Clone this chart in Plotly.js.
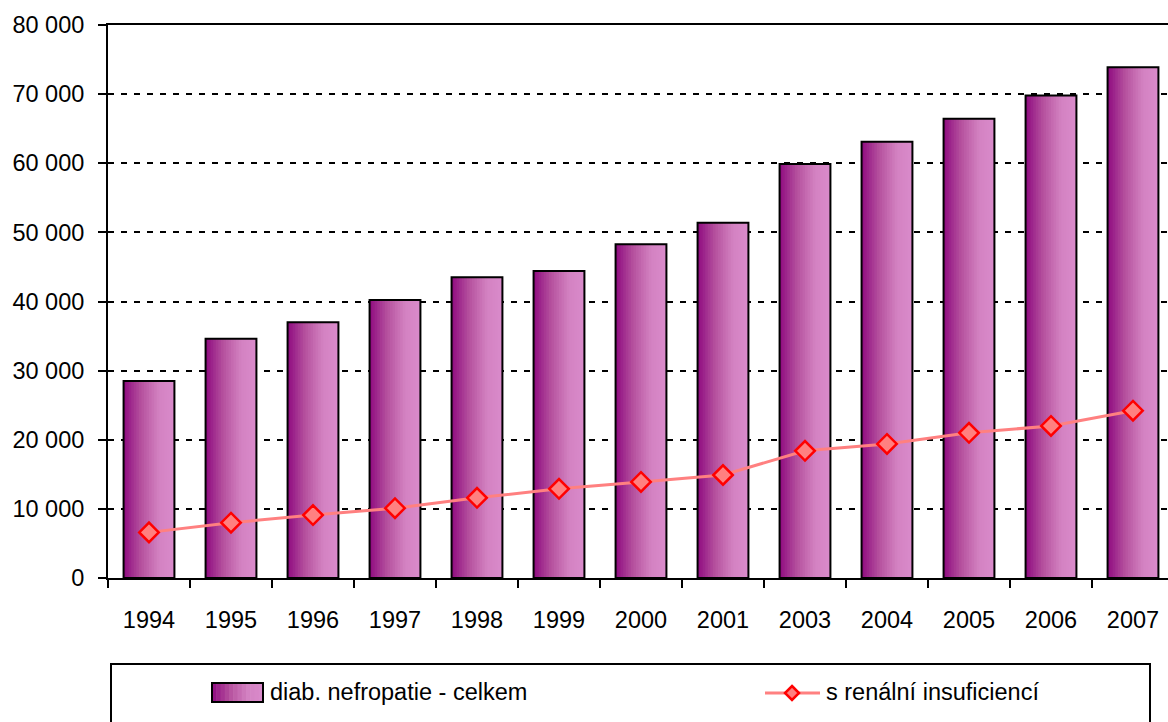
<!DOCTYPE html>
<html><head><meta charset="utf-8">
<script src="https://cdn.plot.ly/plotly-3.0.1.min.js"></script>
<style>html,body{margin:0;padding:0;background:#fff}#chart{width:1168px;height:722px}</style>
</head><body><div id="chart"></div>
<script>
// ---- data ----
const years = ['1994','1995','1996','1997','1998','1999','2000','2001','2003','2004','2005','2006','2007'];
const totalCases = [28500, 34600, 37000, 40200, 43500, 44400, 48300, 51400, 59900, 63100, 66450, 69800, 73900];
const renalInsufficiency = [6600, 8000, 9100, 10100, 11600, 12900, 13900, 14900, 18400, 19400, 21000, 22000, 24200];
const seriesNames = ['diab. nefropatie - celkem', 's renální insuficiencí'];

// ---- styling ----
const FONT = '"Liberation Sans", Arial, sans-serif';
const FS = 23.5;
const BAR_W = 0.62;
const N_SLICES = 20;
const stops = [[0, [0x8e,0x0b,0x80]], [0.35, [0xb6,0x52,0x9e]], [0.7, [0xd3,0x82,0xc2]], [1, [0xd9,0x8b,0xcb]]];
function gradColor(t){
  for (let i=0;i<stops.length-1;i++){
    const [a,ca]=stops[i],[b,cb]=stops[i+1];
    if (t<=b){ const f=(t-a)/(b-a); return 'rgb('+ca.map((v,k)=>Math.round(v+(cb[k]-v)*f)).join(',')+')'; }
  }
  const c=stops[stops.length-1][1]; return 'rgb('+c.join(',')+')';
}

const traces = [];
const step = BAR_W / N_SLICES;
for (let i=0;i<N_SLICES;i++){
  traces.push({
    type:'bar', x:years, y:totalCases, name:seriesNames[0],
    offset:-BAR_W/2 + i*step, width:Math.min(step*1.6, BAR_W - i*step),
    marker:{color:gradColor((i+0.5)/N_SLICES), line:{width:0}},
    hoverinfo:'skip', showlegend:false
  });
}
traces.push({
  type:'bar', x:years, y:totalCases, name:seriesNames[0],
  offset:-BAR_W/2, width:BAR_W,
  marker:{color:'rgba(0,0,0,0)', line:{color:'#000', width:2}},
  showlegend:false
});
traces.push({
  type:'scatter', mode:'lines+markers', x:years, y:renalInsufficiency, name:seriesNames[1],
  line:{color:'#ff8080', width:3},
  marker:{symbol:'diamond', size:15, color:'#ff8080', line:{color:'#ff0000', width:2.5}},
  showlegend:false
});

// ---- manual legend (pixel -> paper helpers) ----
const PL=108, PT=25, PW=1060, PH=553;
const px = v => (v-PL)/PW;
const py = v => (PT+PH-v)/PH;
const shapes = [];
shapes.push({type:'rect', xref:'paper', yref:'paper', x0:px(111), x1:px(1150), y0:py(664), y1:py(740), line:{color:'#000', width:2}, fillcolor:'rgba(0,0,0,0)'});
const sw0=212, sw1=263, swN=12;
for (let i=0;i<swN;i++){
  const a = sw0 + (sw1-sw0)*i/swN, b = sw0 + (sw1-sw0)*(i+1)/swN + 0.6;
  shapes.push({type:'rect', xref:'paper', yref:'paper', x0:px(a), x1:px(Math.min(b,sw1)), y0:py(683), y1:py(702), line:{width:0}, fillcolor:gradColor((i+0.5)/swN)});
}
shapes.push({type:'rect', xref:'paper', yref:'paper', x0:px(sw0), x1:px(sw1), y0:py(683), y1:py(702), line:{color:'#000', width:2}, fillcolor:'rgba(0,0,0,0)'});
shapes.push({type:'line', xref:'paper', yref:'paper', x0:px(765), x1:px(820), y0:py(693), y1:py(693), line:{color:'#ff8080', width:3}});
shapes.push({type:'path', xref:'paper', yref:'paper', xsizemode:'pixel', ysizemode:'pixel', xanchor:px(792), yanchor:py(693),
  path:'M0,7 L7,0 L0,-7 L-7,0 Z', fillcolor:'#ff8080', line:{color:'#ff0000', width:2.5}});

const annotations = [
  {xref:'paper', yref:'paper', x:px(268), y:py(692), xanchor:'left', yanchor:'middle', text:seriesNames[0], showarrow:false, font:{size:FS, family:FONT, color:'#000'}},
  {xref:'paper', yref:'paper', x:px(824), y:py(692), xanchor:'left', yanchor:'middle', text:seriesNames[1], showarrow:false, font:{size:FS, family:FONT, color:'#000'}}
];

const layout = {
  width:1168, height:722,
  margin:{l:PL, r:0, t:PT, b:722-PT-PH, pad:0},
  paper_bgcolor:'#fff', plot_bgcolor:'#fff',
  separators:'. ',
  barmode:'overlay',
  showlegend:false,
  font:{family:FONT, color:'#000', size:FS},
  xaxis:{type:'category', range:[-0.5, -0.5 + PW/82], tickson:'boundaries', ticks:'outside', ticklen:8, tickwidth:2, tickcolor:'#000',
    showline:true, linewidth:2, linecolor:'#000', mirror:true, showgrid:false, zeroline:false,
    tickfont:{size:FS, family:FONT, color:'#000'}, ticklabelstandoff:20, fixedrange:true},
  yaxis:{range:[0,80000], tick0:0, dtick:10000, tickformat:',', ticks:'outside', ticklen:8, tickwidth:2, tickcolor:'#000',
    showline:true, linewidth:2, linecolor:'#000', showgrid:true, gridcolor:'#000', gridwidth:2, griddash:'6px,7px',
    zeroline:false, tickfont:{size:FS, family:FONT, color:'#000'}, ticklabelstandoff:9, fixedrange:true},
  shapes:shapes,
  annotations:annotations
};

Plotly.newPlot('chart', traces, layout, {displayModeBar:false, staticPlot:true});
</script>
</body></html>
